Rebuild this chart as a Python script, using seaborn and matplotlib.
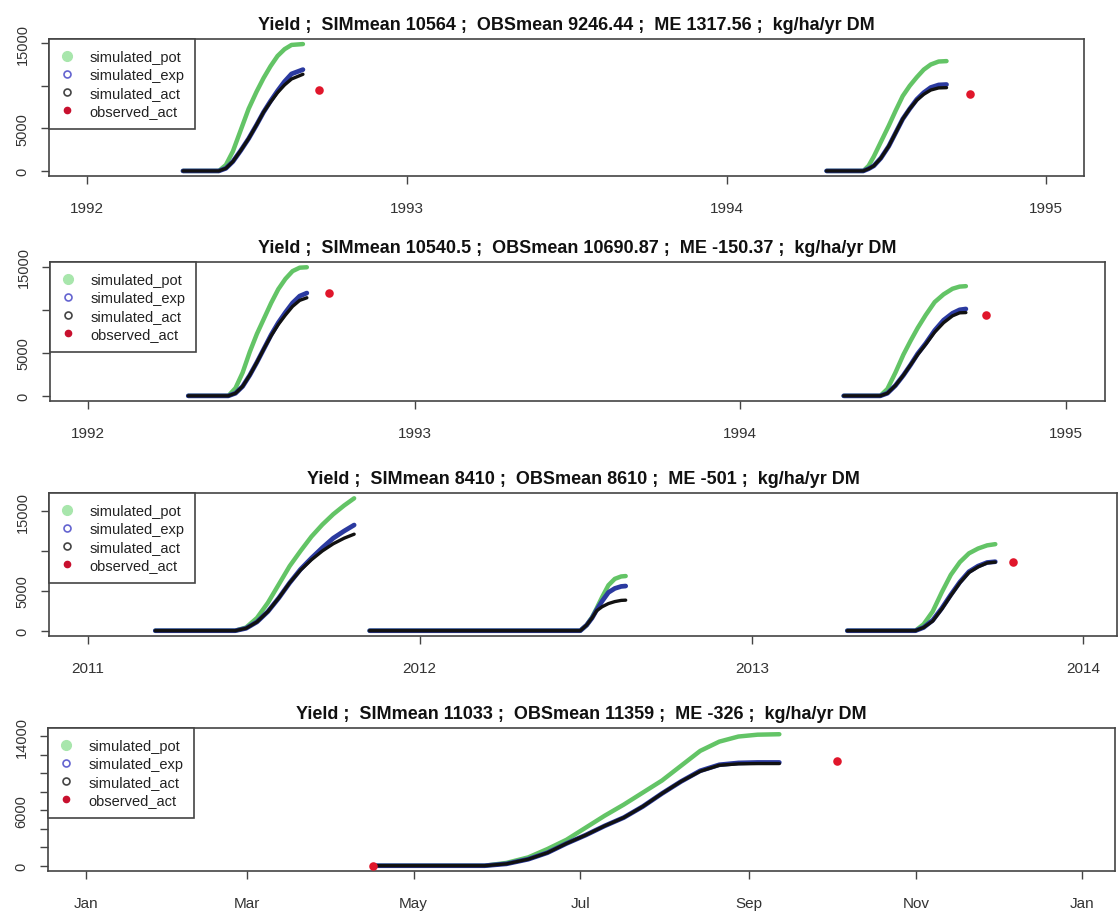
import numpy as np
import pandas as pd
import matplotlib
matplotlib.use("Agg")
import matplotlib.pyplot as plt
import seaborn as sns
from matplotlib.lines import Line2D

sns.set_style("white")
plt.rcParams['font.family'] = ['Liberation Sans', 'DejaVu Sans']

# ---------------- data ----------------
series_names = ["simulated_pot", "simulated_exp", "simulated_act", "observed_act"]

# Panel 1 (1992-1994)
p1_s1_year = 1992
p1_s1_days = [111, 152, 160, 168, 177, 186, 195, 203, 211, 219, 227, 235, 248]
p1_s1_pot = [0, 0, 700, 2300, 4800, 7300, 9300, 10900, 12300, 13500, 14300, 14800, 14900]
p1_s1_exp = [0, 0, 300, 1100, 2400, 3800, 5400, 6900, 8200, 9400, 10500, 11400, 11900]
p1_s1_act = [0, 0, 300, 1100, 2400, 3800, 5400, 6900, 8100, 9200, 10100, 10800, 11350]
p1_s2_year = 1994
p1_s2_days = [115, 157, 163, 169, 177, 186, 194, 202, 210, 218, 226, 234, 243, 252]
p1_s2_pot = [0, 0, 600, 1700, 3400, 5300, 7100, 8800, 10000, 11000, 11900, 12500, 12850, 12900]
p1_s2_exp = [0, 0, 250, 600, 1500, 2900, 4500, 6100, 7300, 8400, 9200, 9800, 10100, 10150]
p1_s2_act = [0, 0, 250, 600, 1500, 2900, 4500, 6100, 7300, 8300, 9000, 9500, 9750, 9780]
p1_obs_dates = ["1992-09-22", "1994-10-06"]
p1_obs_vals = [9480, 9013]
p1_title = "Yield ;  SIMmean 10564 ;  OBSmean 9246.44 ;  ME 1317.56 ;  kg/ha/yr DM"

# Panel 2 (1992-1994)
p2_s1_year = 1992
p2_s1_days = [113, 158, 166, 174, 182, 190, 198, 206, 214, 222, 230, 238, 246]
p2_s1_pot = [0, 0, 900, 2700, 5100, 7200, 9000, 10800, 12400, 13600, 14500, 14900, 14950]
p2_s1_exp = [0, 0, 300, 1100, 2400, 3900, 5500, 7100, 8500, 9700, 10800, 11600, 11950]
p2_s1_act = [0, 0, 300, 1100, 2400, 3900, 5500, 7000, 8300, 9400, 10400, 11100, 11400]
p2_s2_year = 1994
p2_s2_days = [117, 158, 166, 175, 184, 192, 200, 209, 219, 229, 239, 247, 254]
p2_s2_pot = [0, 0, 800, 2700, 4800, 6400, 7900, 9400, 10900, 11800, 12450, 12700, 12750]
p2_s2_exp = [0, 0, 300, 1200, 2400, 3600, 4900, 6100, 7600, 8800, 9600, 10000, 10100]
p2_s2_act = [0, 0, 300, 1200, 2400, 3600, 4800, 6000, 7400, 8500, 9300, 9650, 9680]
p2_obs_dates = ["1992-09-27", "1994-10-04"]
p2_obs_vals = [11950, 9432]
p2_title = "Yield ;  SIMmean 10540.5 ;  OBSmean 10690.87 ;  ME -150.37 ;  kg/ha/yr DM"

# Panel 3 (2011-2013)
p3_s1_year = 2011
p3_s1_days = [75, 163, 175, 187, 199, 211, 223, 235, 247, 259, 271, 283, 294]
p3_s1_pot = [0, 0, 400, 1600, 3500, 5800, 8100, 10000, 11800, 13300, 14600, 15700, 16600]
p3_s1_exp = [0, 0, 300, 1100, 2400, 4100, 6000, 7700, 9100, 10400, 11600, 12500, 13250]
p3_s1_act = [0, 0, 300, 1100, 2400, 4100, 6000, 7600, 8900, 10000, 10900, 11600, 12100]
p3_s2_year = 2012
p3_s2_days = [-54, 178, 185, 191, 196, 202, 209, 216, 223, 228]
p3_s2_pot = [0, 0, 700, 1700, 2800, 4200, 5700, 6500, 6800, 6850]
p3_s2_exp = [0, 0, 700, 1600, 2600, 3700, 4800, 5300, 5550, 5600]
p3_s2_act = [0, 0, 700, 1600, 2500, 3000, 3400, 3650, 3800, 3830]
p3_s3_year = 2013
p3_s3_days = [106, 181, 190, 200, 210, 220, 230, 240, 250, 260, 269]
p3_s3_pot = [0, 0, 800, 2400, 4800, 7000, 8600, 9700, 10300, 10700, 10850]
p3_s3_exp = [0, 0, 400, 1300, 2800, 4500, 6100, 7400, 8100, 8550, 8650]
p3_s3_act = [0, 0, 400, 1200, 2700, 4400, 6000, 7300, 8000, 8500, 8600]
p3_obs_dates = ["2013-10-16"]
p3_obs_vals = [8610]
p3_title = "Yield ;  SIMmean 8410 ;  OBSmean 8610 ;  ME -501 ;  kg/ha/yr DM"

# Panel 4 (one year)
p4_s1_year = 2015
p4_s1_days = [106, 147, 155, 163, 170, 177, 184, 191, 198, 205, 212, 219, 226, 233, 240, 247, 255]
p4_s1_pot = [0, 0, 300, 900, 1800, 2800, 4100, 5400, 6600, 7900, 9200, 10800, 12400, 13400, 13950, 14150, 14200]
p4_s1_exp = [0, 0, 200, 700, 1400, 2400, 3300, 4300, 5200, 6400, 7800, 9100, 10250, 10900, 11100, 11150, 11150]
p4_s1_act = [0, 0, 200, 700, 1400, 2400, 3300, 4300, 5200, 6400, 7800, 9100, 10200, 10850, 11000, 11030, 11033]
p4_obs_dates = ["2015-04-16", "2015-10-03"]
p4_obs_vals = [0, 11359]
p4_title = "Yield ;  SIMmean 11033 ;  OBSmean 11359 ;  ME -326 ;  kg/ha/yr DM"

# ---------------- helpers ----------------
W, H = 1118, 912
pot_col, exp_col, act_col, obs_col = "#63c466", "#2b3aa0", "#111111", "#e0162b"


def season_frame(year, days, pot, exp, act, sid):
    base = pd.Timestamp(f"{year}-01-01")
    dates = base + pd.to_timedelta(np.array(days) - 1, unit="D")
    rows = []
    for name, vals in (("pot", pot), ("exp", exp), ("act", act)):
        rows.append(pd.DataFrame({"date": dates, "value": vals, "series": name, "season": sid}))
    return pd.concat(rows, ignore_index=True)


def box(l, t, r, b):
    return [l / W, 1 - b / H, (r - l) / W, (b - t) / H]


panels = [
    dict(rect=box(49, 40, 1084, 177),
         seasons=[(p1_s1_year, p1_s1_days, p1_s1_pot, p1_s1_exp, p1_s1_act),
                  (p1_s2_year, p1_s2_days, p1_s2_pot, p1_s2_exp, p1_s2_act)],
         obs=(p1_obs_dates, p1_obs_vals), title=p1_title,
         xlim=("1991-11-19", "1995-02-13"),
         xticks=["1992-01-01", "1993-01-01", "1994-01-01", "1995-01-01"],
         xlabels=["1992", "1993", "1994", "1995"],
         ylim=(-596, 15496), yticks=[0, 5000, 10000, 15000], ylabels=["0", "5000", "", "15000"]),
    dict(rect=box(50, 263, 1105, 402),
         seasons=[(p2_s1_year, p2_s1_days, p2_s1_pot, p2_s1_exp, p2_s1_act),
                  (p2_s2_year, p2_s2_days, p2_s2_pot, p2_s2_exp, p2_s2_act)],
         obs=(p2_obs_dates, p2_obs_vals), title=p2_title,
         xlim=("1991-11-19", "1995-02-14"),
         xticks=["1992-01-01", "1993-01-01", "1994-01-01", "1995-01-01"],
         xlabels=["1992", "1993", "1994", "1995"],
         ylim=(-600, 15560), yticks=[0, 5000, 10000, 15000], ylabels=["0", "5000", "", "15000"]),
    dict(rect=box(49, 494, 1117, 637),
         seasons=[(p3_s1_year, p3_s1_days, p3_s1_pot, p3_s1_exp, p3_s1_act),
                  (p3_s2_year, p3_s2_days, p3_s2_pot, p3_s2_exp, p3_s2_act),
                  (p3_s3_year, p3_s3_days, p3_s3_pot, p3_s3_exp, p3_s3_act)],
         obs=(p3_obs_dates, p3_obs_vals), title=p3_title,
         xlim=("2010-11-19", "2014-02-07"),
         xticks=["2011-01-01", "2012-01-01", "2013-01-01", "2014-01-01"],
         xlabels=["2011", "2012", "2013", "2014"],
         ylim=(-664, 17264), yticks=[0, 5000, 10000, 15000], ylabels=["0", "5000", "", "15000"]),
    dict(rect=box(48, 729, 1115, 872),
         seasons=[(p4_s1_year, p4_s1_days, p4_s1_pot, p4_s1_exp, p4_s1_act)],
         obs=(p4_obs_dates, p4_obs_vals), title=p4_title,
         xlim=("2014-12-18", "2016-01-13"),
         xticks=["2015-01-01", "2015-03-01", "2015-05-01", "2015-07-01",
                 "2015-09-01", "2015-11-01", "2016-01-01"],
         xlabels=["Jan", "Mar", "May", "Jul", "Sep", "Nov", "Jan"],
         ylim=(-572, 14872), yticks=list(range(0, 14001, 2000)),
         ylabels=["0", "", "", "6000", "", "", "", "14000"]),
]

fig = plt.figure(figsize=(W / 100, H / 100), dpi=100)
fig.patch.set_facecolor("white")

for p in panels:
    ax = fig.add_axes(p["rect"])
    df = pd.concat([season_frame(*s, sid=i) for i, s in enumerate(p["seasons"])], ignore_index=True)
    for name, col, lw in (("pot", pot_col, 3.2), ("exp", exp_col, 3.4), ("act", act_col, 2.4)):
        sub = df[df["series"] == name]
        sns.lineplot(data=sub, x="date", y="value", units="season", estimator=None,
                     color=col, lw=lw, ax=ax, legend=False, sort=False)
    odf = pd.DataFrame({"date": pd.to_datetime(p["obs"][0]), "value": p["obs"][1]})
    sns.scatterplot(data=odf, x="date", y="value", color=obs_col, s=38, edgecolor=obs_col,
                    linewidth=0, ax=ax, legend=False, zorder=5)

    ax.set_xlim(pd.Timestamp(p["xlim"][0]), pd.Timestamp(p["xlim"][1]))
    ax.set_ylim(*p["ylim"])
    ax.set_xticks(pd.to_datetime(p["xticks"]))
    ax.set_xticklabels(p["xlabels"])
    ax.set_yticks(p["yticks"])
    ax.set_yticklabels(p["ylabels"], rotation=90, va="center")
    ax.set_xlabel("")
    ax.set_ylabel("")
    ax.tick_params(axis="both", bottom=True, left=True, direction="out", length=6, width=1,
                   color="#444444", labelcolor="#333333")
    ax.tick_params(axis="x", pad=12, labelsize=11)
    ax.tick_params(axis="y", pad=8, labelsize=10.5)
    for s in ax.spines.values():
        s.set_color("#444444")
        s.set_linewidth(1.2)
    ax.set_title(p["title"], fontsize=13, fontweight="bold", pad=7, color="#111111")

    handles = [
        Line2D([], [], ls="none", marker="o", ms=7, mfc="#a8e6ac", mec="#a8e6ac"),
        Line2D([], [], ls="none", marker="o", ms=5, mfc="none", mec="#6464d0", mew=1.2),
        Line2D([], [], ls="none", marker="o", ms=5, mfc="none", mec="#444444", mew=1.2),
        Line2D([], [], ls="none", marker="o", ms=4.5, mfc="#c8102e", mec="#c8102e"),
    ]
    leg = ax.legend(handles, series_names, loc="upper left", bbox_to_anchor=(0, 1),
                    borderaxespad=0, frameon=True, fancybox=False, framealpha=1,
                    edgecolor="#444444", fontsize=10.5, handlelength=1.0,
                    handletextpad=1.0, labelspacing=0.28, borderpad=0.75)
    leg.get_frame().set_linewidth(1.2)
    for t in leg.get_texts():
        t.set_color("#222222")

fig.savefig("out.png", dpi=100, facecolor="white")
